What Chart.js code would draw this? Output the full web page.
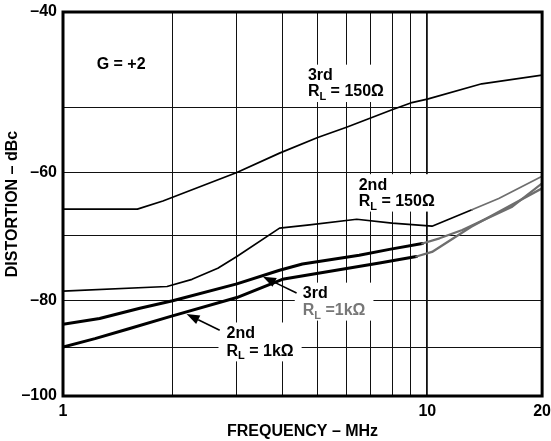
<!DOCTYPE html>
<html><head><meta charset="utf-8">
<script src="https://cdn.jsdelivr.net/npm/chart.js@4.4.1/dist/chart.umd.min.js"></script>
<style>html,body{margin:0;padding:0;background:#fff}canvas{display:block}</style>
</head><body>
<canvas id="c" width="551" height="441"></canvas>
<script>
// ---------- data ----------
const xTicks = [1, 2, 3, 4, 5, 6, 7, 8, 9, 10];
const xTickText = { 1: '1', 10: '10' };
const xMin = 1, xMax = 20.65, xEndText = '20';
const yTicks = [-100, -90, -80, -70, -60, -50, -40];
const yTickText = ['–100', '', '–80', '', '–60', '', '–40'];

const f3rd150  = [1, 1.6, 1.88, 3, 3.93, 5, 6, 6.9, 8, 9, 10, 14.1, 20.65];
const db3rd150 = [-65.8, -65.8, -64.5, -60, -57.0, -54.6, -53.0, -51.7, -50.3, -49.5, -49.1, -47.5, -46.6];

const f2nd150  = [1, 1.93, 2.26, 2.66, 3, 3.93, 4.75, 6.4, 8, 10.3, 13.25, 15.7, 20.65];
const db2nd150 = [-78.5, -77.8, -76.7, -75.0, -73.2, -68.8, -68.3, -67.4, -68.0, -68.5, -65.9, -64.1, -60.6];

const f3rd1k  = [1, 1.26, 1.625, 2, 3, 3.93, 4.54, 6.5, 7.87, 9.69, 10.8, 12.47, 17.1, 20.65];
const db3rd1k = [-85.0, -83.8, -81.6, -80, -77.4, -75.3, -74.35, -73.0, -72.1, -71.2, -70.4, -69.1, -65.4, -61.7];

const f2nd1k  = [1, 1.224, 1.5, 1.965, 3, 4.0, 7.39, 9.33, 10.3, 13.2, 20.65];
const db2nd1k = [-89.9, -88.1, -86.1, -83.4, -79.5, -76.7, -74.2, -73.2, -72.5, -68.6, -62.5];

// annotation text anchors (frequency, dBc of each line)
const labels = [
  { f: 1.237, lines: [{ t: 'G = +2', db: -45.5 }], box: false },
  { f: 4.70, lines: [{ t: '3rd', db: -46.65 }, { rl: true, t: ' = 150Ω', db: -48.36 }], box: true },
  { f: 6.48, lines: [{ t: '2nd', db: -62.0 }, { rl: true, t: ' = 150Ω', db: -64.6 }], box: true },
  { f: 4.55, lines: [{ t: '3rd', db: -78.9 }, { rl: true, t: ' =1kΩ', db: -82.1, grey: true }], box: true },
  { f: 2.81, lines: [{ t: '2nd', db: -87.0 }, { rl: true, t: ' = 1kΩ', db: -90.8 }], box: true }
];
const arrows = [
  { from: [4.376, -78.8], to: [3.538, -76.3] },
  { from: [2.692, -86.3], to: [2.183, -82.85] }
];

// ---------- scale: piecewise axis matching the printed grid ----------
const WARP_DEC = [0, 0.1263, 0.2479, 0.4175, 0.5819, 0.7507, 1];
function warp(v) {
  const V = yTicks;
  if (v <= V[0]) return WARP_DEC[0] + (v - V[0]) / (V[1] - V[0]) * (WARP_DEC[1] - WARP_DEC[0]);
  for (let i = 0; i < V.length - 1; i++) {
    if (v <= V[i + 1]) return WARP_DEC[i] + (v - V[i]) / (V[i + 1] - V[i]) * (WARP_DEC[i + 1] - WARP_DEC[i]);
  }
  const n = V.length - 1;
  return WARP_DEC[n] + (v - V[n]) / (V[n] - V[n - 1]) * (WARP_DEC[n] - WARP_DEC[n - 1]);
}
function unwarp(d) {
  const V = yTicks;
  for (let i = 0; i < V.length - 1; i++) {
    if (d <= WARP_DEC[i + 1] || i === V.length - 2) return V[i] + (d - WARP_DEC[i]) / (WARP_DEC[i + 1] - WARP_DEC[i]) * (V[i + 1] - V[i]);
  }
}
class WarpScale extends Chart.LinearScale {
  getPixelForValue(value) {
    if (value === null || value === undefined || isNaN(value)) return NaN;
    return this.getPixelForDecimal(warp(value));
  }
  getValueForPixel(pixel) { return unwarp(this.getDecimalForPixel(pixel)); }
}
WarpScale.id = 'warp';
WarpScale.defaults = Chart.LinearScale.defaults;
Chart.register(WarpScale);

// ---------- helpers ----------
const FAM = '"Liberation Sans", Arial, Helvetica, sans-serif';
const FONT = 'bold 16px ' + FAM;
const SUB = 'bold 11px ' + FAM;
const zip = (fs, ds) => fs.map((f, i) => ({ x: f, y: ds[i] }));
const greyAfter = lim => ctx => (ctx.p0.parsed.x >= lim ? '#6e6e6e' : '#000');
const thinAfter = (lim, w0, w1) => ctx => (ctx.p0.parsed.x >= lim ? w1 : w0);

function textWidth(ctx, ln) {
  if (!ln.rl) { ctx.font = FONT; return ctx.measureText(ln.t).width; }
  ctx.font = FONT; const a = ctx.measureText('R').width + ctx.measureText(ln.t).width;
  ctx.font = SUB; return a + ctx.measureText('L').width;
}
function drawLine(ctx, ln, x, y) {
  ctx.fillStyle = ln.grey ? '#777' : '#000';
  ctx.textBaseline = 'middle'; ctx.textAlign = 'left';
  if (!ln.rl) { ctx.font = FONT; ctx.fillText(ln.t, x, y); return; }
  ctx.font = FONT; ctx.fillText('R', x, y);
  let cx = x + ctx.measureText('R').width;
  ctx.font = SUB; ctx.fillText('L', cx, y + 5);
  cx += ctx.measureText('L').width;
  ctx.font = FONT; ctx.fillText(ln.t, cx, y);
}

const annotPlugin = {
  id: 'annot',
  beforeDatasetsDraw(chart) {
    const { ctx, scales: { x, y } } = chart;
    ctx.save();
    for (const b of labels) {
      const px = x.getPixelForValue(b.f);
      const ys = b.lines.map(l => y.getPixelForValue(l.db));
      if (b.box) {
        const w = Math.max(...b.lines.map(l => textWidth(ctx, l)));
        ctx.fillStyle = '#fff';
        ctx.fillRect(px - 8, ys[0] - 11, w + 16, ys[ys.length - 1] - ys[0] + 21);
      }
      b.lines.forEach((l, i) => drawLine(ctx, l, px, ys[i]));
    }
    ctx.restore();
  },
  afterDatasetsDraw(chart) {
    const { ctx, chartArea: a, scales: { x, y } } = chart;
    ctx.save();
    for (const ar of arrows) {
      const x0 = x.getPixelForValue(ar.from[0]), y0 = y.getPixelForValue(ar.from[1]);
      const x1 = x.getPixelForValue(ar.to[0]), y1 = y.getPixelForValue(ar.to[1]);
      const ang = Math.atan2(y1 - y0, x1 - x0), L = 13, H = 4.8;
      const bx = x1 - L * Math.cos(ang), by = y1 - L * Math.sin(ang);
      ctx.strokeStyle = '#000'; ctx.lineWidth = 1.6;
      ctx.beginPath(); ctx.moveTo(x0, y0); ctx.lineTo(bx, by); ctx.stroke();
      ctx.fillStyle = '#000';
      ctx.beginPath();
      ctx.moveTo(x1, y1);
      ctx.lineTo(bx + H * Math.sin(ang), by - H * Math.cos(ang));
      ctx.lineTo(bx - H * Math.sin(ang), by + H * Math.cos(ang));
      ctx.closePath(); ctx.fill();
    }
    ctx.strokeStyle = '#000'; ctx.lineWidth = 3;
    ctx.strokeRect(a.left, a.top, a.right - a.left, a.bottom - a.top);
    ctx.restore();
  }
};

new Chart(document.getElementById('c'), {
  type: 'line',
  data: {
    datasets: [
      { label: '3rd RL=150Ω', data: zip(f3rd150, db3rd150), borderColor: '#000', borderWidth: 1.7 },
      { label: '2nd RL=150Ω', data: zip(f2nd150, db2nd150), borderColor: '#000', borderWidth: 1.7, segment: { borderColor: greyAfter(13.2) } },
      { label: '3rd RL=1kΩ', data: zip(f3rd1k, db3rd1k), borderColor: '#000', borderWidth: 3, segment: { borderColor: greyAfter(9.6), borderWidth: thinAfter(9.6, 3, 2.3) } },
      { label: '2nd RL=1kΩ', data: zip(f2nd1k, db2nd1k), borderColor: '#000', borderWidth: 3, segment: { borderColor: greyAfter(9.3), borderWidth: thinAfter(9.3, 3, 2.3) } }
    ]
  },
  options: {
    responsive: false, animation: false, devicePixelRatio: 1,
    elements: { point: { radius: 0 }, line: { tension: 0, borderCapStyle: 'round', borderJoinStyle: 'round' } },
    layout: { padding: { left: 0, right: 8, top: 12, bottom: 0 } },
    plugins: { legend: { display: false }, tooltip: { enabled: false } },
    scales: {
      x: {
        type: 'logarithmic', min: xMin, max: xMax,
        afterBuildTicks: s => { s.ticks = xTicks.concat([xMax]).map(v => ({ value: v })); },
        afterFit: s => { s.height = 45; },
        ticks: {
          autoSkip: false, maxRotation: 0, padding: 0, color: '#000',
          font: { family: FAM, size: 16, weight: 'bold', lineHeight: 2 },
          callback: v => (v === xMax ? xEndText : (xTickText[v] || ''))
        },
        grid: {
          drawTicks: false,
          color: c => (c.tick && c.tick.value === xMax ? 'rgba(0,0,0,0)' : '#111'),
          lineWidth: c => (c.tick && c.tick.value === 10 ? 1.8 : 1)
        },
        border: { display: false },
        title: { display: true, text: 'FREQUENCY – MHz', color: '#000', font: { family: FAM, size: 16, weight: 'bold' }, padding: { top: 0, bottom: 0 } }
      },
      y: {
        type: 'warp', min: -100, max: -40,
        afterBuildTicks: s => { s.ticks = yTicks.map(v => ({ value: v })); },
        afterFit: s => { s.width = 63; },
        ticks: {
          autoSkip: false, padding: 6, color: '#000',
          font: { family: FAM, size: 16, weight: 'bold', lineHeight: 0.5 },
          callback: v => { const i = yTicks.indexOf(v); return i >= 0 ? yTickText[i] : ''; }
        },
        grid: { drawTicks: false, color: '#111', lineWidth: 1 },
        border: { display: false },
        title: { display: true, text: 'DISTORTION – dBc', color: '#000', font: { family: FAM, size: 16, weight: 'bold' }, padding: { top: 3, bottom: 0 } }
      }
    }
  },
  plugins: [annotPlugin]
});
</script>
</body></html>
